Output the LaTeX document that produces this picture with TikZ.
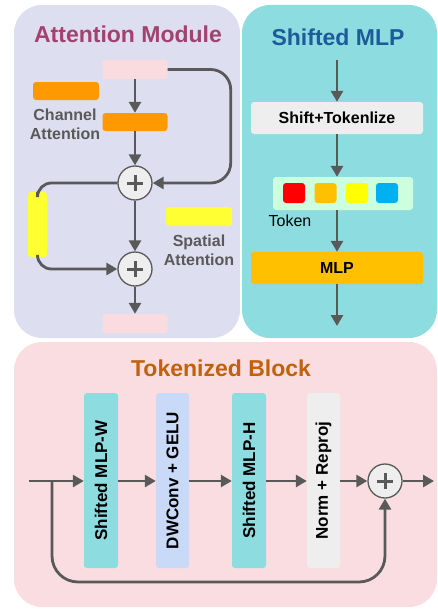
\documentclass[tikz,border=0pt]{standalone}
\usepackage{fontspec}
\setmainfont{Liberation Sans}
\usetikzlibrary{arrows.meta}

\definecolor{linegray}{HTML}{595959}
\definecolor{plusgray}{HTML}{EEEEEE}
\definecolor{attnbg}{HTML}{DDDFF0}
\definecolor{mlpbg}{HTML}{8DDCE0}
\definecolor{tokbg}{HTML}{FADDE0}
\definecolor{featpink}{HTML}{FADCE0}
\definecolor{chorange}{HTML}{FF9900}
\definecolor{spyellow}{HTML}{FFFF33}
\definecolor{attntitle}{HTML}{A3416F}
\definecolor{mlptitle}{HTML}{1E5B9A}
\definecolor{toktitle}{HTML}{C0620C}
\definecolor{dwblue}{HTML}{C9DAF8}
\definecolor{tokgreen}{HTML}{CCFFDD}
\definecolor{mlpgold}{HTML}{FFC000}
\definecolor{tokred}{HTML}{FF0000}
\definecolor{tokyellow}{HTML}{FFFF00}
\definecolor{tokblue}{HTML}{00B0F0}

\begin{document}
\begin{tikzpicture}[x=1pt,y=-1pt,
  flow/.style={draw=linegray,line width=2.8pt,-{Triangle[length=11pt,width=12pt]}},
  wire/.style={draw=linegray,line width=2.8pt},
  blk/.style={rectangle,rounded corners=3pt,inner sep=0pt},
  title/.style={font=\fontsize{23}{27}\selectfont\bfseries},
  lbl/.style={font=\fontsize{16}{19}\selectfont\bfseries},
  vlbl/.style={font=\fontsize{17}{20}\selectfont\bfseries,rotate=90},
  addop/.style={circle,draw=linegray,line width=1.3pt,fill=plusgray,minimum size=34pt,inner sep=0pt,
    path picture={\draw[linegray,line width=3pt] (path picture bounding box.center) +(-8,0) -- +(8,0) +(0,-8) -- +(0,8);}}]
\useasboundingbox (0,0) rectangle (437,610);

% panels
\fill[attnbg,rounded corners=28pt] (14,5) rectangle (240,338);
\fill[mlpbg,rounded corners=28pt] (242,5) rectangle (437,338);
\fill[tokbg,rounded corners=28pt] (14,342) rectangle (437,607);

% attention module
\node[title,text=attntitle] (attnT) at (128,34) {Attention Module};
\node[blk,fill=featpink,minimum width=65pt,minimum height=19pt] (topbox) at (135,69.5) {};
\node[blk,fill=chorange,minimum width=66pt,minimum height=18pt] (chleg) at (66,91) {};
\node[lbl,text=linegray,align=center] (chtxt) at (65,124) {Channel\\Attention};
\node[blk,fill=chorange,minimum width=65pt,minimum height=18pt] (chbox) at (135,122) {};
\node[addop] (plusA) at (135,183) {};
\node[blk,fill=spyellow,minimum width=19pt,minimum height=65pt] (spbar) at (37.5,224.5) {};
\node[blk,fill=spyellow,minimum width=66pt,minimum height=19pt] (spleg) at (199,216.5) {};
\node[lbl,text=linegray,align=center] (sptxt) at (199,250) {Spatial\\Attention};
\node[addop] (plusB) at (135,269) {};
\node[blk,fill=featpink,minimum width=65pt,minimum height=19pt] (botbox) at (135,323.5) {};

\draw[flow] (topbox) -- (chbox);
\draw[flow] (chbox) -- (plusA);
\draw[flow,rounded corners=20pt] (topbox.east) -- ++(63,0) |- (plusA.east);
\draw[wire,rounded corners=14pt] (plusA.west) -| (spbar.north);
\draw[flow,rounded corners=14pt] (spbar.south) |- (plusB.west);
\draw[flow] (plusA) -- (plusB);
\draw[flow] (plusB) -- (botbox);

% shifted mlp
\node[title,text=mlptitle] (mlpT) at (338,37) {Shifted MLP};
\coordinate (mlpin) at (337,60);
\node[blk,fill=plusgray,minimum width=172pt,minimum height=32pt,lbl] (shiftbox) at (337,118) {Shift+Tokenlize};
\node[blk,fill=tokgreen,minimum width=140pt,minimum height=33pt] (tokrow) at (343,193.5) {};
\node[blk,fill=tokred,minimum width=22pt,minimum height=20pt] (tok1) at (294,193) {};
\node[blk,fill=mlpgold,minimum width=22pt,minimum height=20pt] (tok2) at (325.5,193) {};
\node[blk,fill=tokyellow,minimum width=22pt,minimum height=20pt] (tok3) at (357,193) {};
\node[blk,fill=tokblue,minimum width=22pt,minimum height=20pt] (tok4) at (387,193) {};
\node[font=\fontsize{16}{19}\selectfont] (toktxt) at (290,221) {Token};
\node[blk,fill=mlpgold,minimum width=172pt,minimum height=32pt,lbl] (mlpbox) at (337,268) {MLP};
\coordinate (mlpout) at (337,326);

\draw[flow] (mlpin) -- (shiftbox);
\draw[flow] (shiftbox.south) -- (shiftbox.south |- tokrow.north);
\draw[flow] (shiftbox.south |- tokrow.south) -- (mlpbox);
\draw[flow] (mlpbox) -- (mlpout);

% tokenized block
\node[title,text=toktitle] (tokT) at (221,368) {Tokenized Block};
\node[blk,fill=mlpbg,minimum width=34pt,minimum height=175pt] (bW) at (101,480.5) {};
\node[blk,fill=dwblue,minimum width=33pt,minimum height=175pt] (bDW) at (172.5,480.5) {};
\node[blk,fill=mlpbg,minimum width=34pt,minimum height=175pt] (bH) at (249,480.5) {};
\node[blk,fill=plusgray,minimum width=33pt,minimum height=175pt] (bN) at (323.5,480.5) {};
\node[vlbl] at (bW) {Shifted MLP-W};
\node[vlbl] at (bDW) {DWConv + GELU};
\node[vlbl] at (bH) {Shifted MLP-H};
\node[vlbl] at (bN) {Norm + Reproj};
\node[addop] (plusC) at (385,481) {};
\coordinate (tin) at (29,481);
\coordinate (split) at (52,481);
\coordinate (tout) at (434,481);

\draw[flow] (tin) -- (bW.west |- tin);
\draw[flow] (bW.east |- tin) -- (bDW.west |- tin);
\draw[flow] (bDW.east |- tin) -- (bH.west |- tin);
\draw[flow] (bH.east |- tin) -- (bN.west |- tin);
\draw[flow] (bN.east |- tin) -- (plusC.west);
\draw[flow] (plusC.east) -- (tout);
\draw[flow,rounded corners=26pt] (split) -- ++(0,101) -| (plusC.south);
\end{tikzpicture}
\end{document}
